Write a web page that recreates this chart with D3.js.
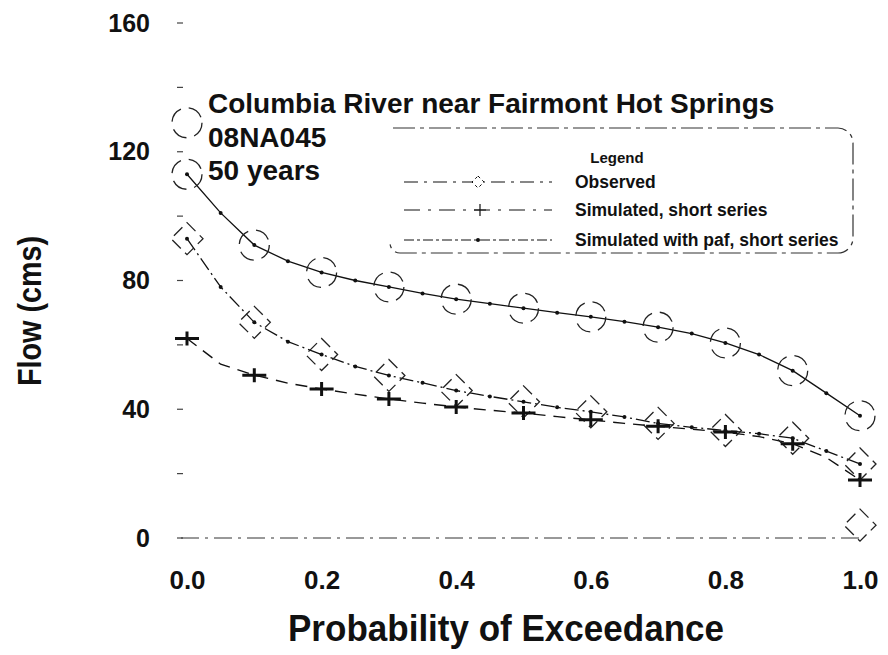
<!DOCTYPE html>
<html>
<head>
<meta charset="utf-8">
<script src="https://cdn.jsdelivr.net/npm/d3@7"></script>
<style>
  html, body { margin: 0; padding: 0; background: #fff; }
  svg { display: block; font-family: "Liberation Sans", Arial, sans-serif; }
</style>
</head>
<body>
<svg width="888" height="655"></svg>
<script>
// exceedance probabilities of the plotted points
const probs = [0, 0.05, 0.1, 0.15, 0.2, 0.25, 0.3, 0.35, 0.4, 0.45, 0.5,
    0.55, 0.6, 0.65, 0.7, 0.75, 0.8, 0.85, 0.9, 0.95, 1.0];

// flows (cms)
const simPaf = [113, 101, 91, 86, 82.5, 80, 78, 76, 74.2, 72.8, 71.4,
    70, 68.7, 67.2, 65.5, 63.5, 60.6, 57, 52, 45, 38];
const observed = [93, 78, 67, 61, 57, 53.3, 50.5, 48.2, 45.8, 44, 42.3,
    40.6, 39.2, 37.6, 35.6, 34.4, 33.4, 32.4, 31, 27, 23];
const simShort = [62, 54, 50.6, 48.1, 46.3, 44.7, 43.2, 41.9, 40.7, 39.7, 38.8,
    37.7, 36.7, 35.6, 34.7, 33.8, 32.9, 31.5, 29.3, 25, 18];

// lone markers off the curves
const extraPafProbs = [0];
const extraPaf = [129];
const extraObsProbs = [1.0];
const extraObserved = [4];

const yTicks = [0, 40, 80, 120, 160];
const yMinorTicks = [0, 20, 40, 60, 80, 100, 120, 140, 160];
const xTicks = [0, 0.2, 0.4, 0.6, 0.8, 1.0];

const titleLines = ["Columbia River near Fairmont Hot Springs", "08NA045", "50 years"];
const legendLabels = ["Observed", "Simulated, short series", "Simulated with paf, short series"];

const svg = d3.select("svg");
const ink = "#111";

const x = d3.scaleLinear().domain([0, 1]).range([187, 860]);
const y = d3.scaleLinear().domain([0, 160]).range([538, 23]);

// y axis: only labels and small dashes, no spine
const yAxis = svg.append("g")
    .attr("transform", "translate(150,0)")
    .call(d3.axisLeft(y).tickValues(yTicks).tickSize(0).tickPadding(0).tickFormat(d3.format("d")));
yAxis.select(".domain").remove();
yAxis.selectAll("text")
    .attr("font-size", 25).attr("font-weight", "bold").attr("fill", ink)
    .attr("font-family", "Liberation Sans, Arial, sans-serif");

svg.append("g").selectAll("line")
    .data(yMinorTicks)
    .enter().append("line")
    .attr("x1", 177).attr("x2", 183)
    .attr("y1", d => y(d)).attr("y2", d => y(d))
    .attr("stroke", "#444").attr("stroke-width", 1.2);

// x axis: labels below, a broken baseline
const xAxis = svg.append("g")
    .attr("transform", "translate(0,571)")
    .call(d3.axisBottom(x).tickValues(xTicks).tickSize(0).tickPadding(0).tickFormat(d3.format(".1f")));
xAxis.select(".domain").remove();
xAxis.selectAll("text")
    .attr("font-size", 26).attr("font-weight", "bold").attr("fill", ink)
    .attr("font-family", "Liberation Sans, Arial, sans-serif");

svg.append("line")
    .attr("x1", x(0) - 6).attr("x2", x(1))
    .attr("y1", y(0)).attr("y2", y(0))
    .attr("stroke", "#333").attr("stroke-width", 1)
    .attr("stroke-dasharray", "18,6,3,6");

// axis titles
svg.append("text")
    .attr("x", 506).attr("y", 641)
    .attr("text-anchor", "middle")
    .attr("font-size", 36).attr("font-weight", "bold").attr("fill", ink)
    .attr("textLength", 436).attr("lengthAdjust", "spacingAndGlyphs")
    .text("Probability of Exceedance");

svg.append("text")
    .attr("transform", "translate(41,311) rotate(-90)")
    .attr("text-anchor", "middle")
    .attr("font-size", 34).attr("font-weight", "bold").attr("fill", ink)
    .attr("textLength", 150).attr("lengthAdjust", "spacingAndGlyphs")
    .text("Flow (cms)");

// station text
svg.append("g").selectAll("text")
    .data(titleLines)
    .enter().append("text")
    .attr("x", 208)
    .attr("y", (d, i) => 113 + i * 33.5)
    .attr("font-size", 28).attr("font-weight", "bold").attr("fill", ink)
    .text(d => d);

// series
const line = d3.line().x(d => x(d[0])).y(d => y(d[1]));
const pts = vals => probs.map((p, i) => [p, vals[i]]);
const tenths = vals => pts(vals).filter((d, i) => i % 2 === 0);
const pairs = (ps, vs) => ps.map((p, i) => [p, vs[i]]);

const series = [
    {id: "paf", vals: simPaf, dash: null, width: 1.3},
    {id: "obs", vals: observed, dash: "14,4,2,4", width: 1.3},
    {id: "short", vals: simShort, dash: "12,8", width: 1.4}
];

const plot = svg.append("g").attr("id", "curves").attr("fill", "none");
plot.selectAll("path.curve")
    .data(series)
    .enter().append("path")
    .attr("class", "curve")
    .attr("d", s => line(pts(s.vals)))
    .attr("stroke", ink)
    .attr("stroke-width", s => s.width)
    .attr("stroke-dasharray", s => s.dash);

// small dots along upper two curves
[simPaf, observed].forEach(vals => {
    svg.append("g").selectAll("circle")
        .data(pts(vals))
        .enter().append("circle")
        .attr("cx", d => x(d[0])).attr("cy", d => y(d[1]))
        .attr("r", 2).attr("fill", ink);
});

// open circles on the paf curve
svg.append("g").selectAll("circle")
    .data(tenths(simPaf).concat(pairs(extraPafProbs, extraPaf)))
    .enter().append("circle")
    .attr("cx", d => x(d[0])).attr("cy", d => y(d[1]))
    .attr("r", 15)
    .attr("fill", "none").attr("stroke", "#222").attr("stroke-width", 1.3)
    .attr("stroke-dasharray", "16,8");

// diamonds on the observed curve
function diamond(cx, cy, r) {
    const path = d3.path();
    path.moveTo(cx, cy - r);
    path.lineTo(cx + r, cy);
    path.lineTo(cx, cy + r);
    path.lineTo(cx - r, cy);
    path.closePath();
    return path.toString();
}
svg.append("g").selectAll("path")
    .data(tenths(observed).concat(pairs(extraObsProbs, extraObserved)))
    .enter().append("path")
    .attr("d", d => diamond(x(d[0]), y(d[1]), 16))
    .attr("fill", "none").attr("stroke", "#222").attr("stroke-width", 1.3)
    .attr("stroke-dasharray", "12,6");

// plus markers on the short-series curve
function plus(cx, cy, w, h) {
    const path = d3.path();
    path.moveTo(cx - w, cy);
    path.lineTo(cx + w, cy);
    path.moveTo(cx, cy - h);
    path.lineTo(cx, cy + h);
    return path.toString();
}
svg.append("g").selectAll("path")
    .data(tenths(simShort))
    .enter().append("path")
    .attr("d", d => plus(x(d[0]), y(d[1]), 12, 7))
    .attr("fill", "none").attr("stroke", ink).attr("stroke-width", 3);

// legend box
const legend = svg.append("g").attr("id", "legend");
const box = d3.path();
box.moveTo(393, 128);
box.lineTo(838, 128);
box.arcTo(853, 128, 853, 143, 15);
box.lineTo(853, 238);
box.arcTo(853, 253, 838, 253, 15);
box.lineTo(402, 253);
box.arcTo(390, 253, 390, 245, 10);
legend.append("path")
    .attr("d", box.toString())
    .attr("fill", "none").attr("stroke", "#333").attr("stroke-width", 1.2)
    .attr("stroke-dasharray", "22,5,4,5");

legend.append("text")
    .attr("x", 617).attr("y", 163)
    .attr("text-anchor", "middle")
    .attr("font-size", 15).attr("font-weight", "bold").attr("fill", ink)
    .text("Legend");

const rowY = [182, 210, 240];
const sampleDash = ["14,6,3,6", "16,8,3,8", "10,3,3,3"];
legend.selectAll("line.sample")
    .data(legendLabels)
    .enter().append("line")
    .attr("class", "sample")
    .attr("x1", 404).attr("x2", 552)
    .attr("y1", (d, i) => rowY[i]).attr("y2", (d, i) => rowY[i])
    .attr("stroke", ink).attr("stroke-width", 1.2)
    .attr("stroke-dasharray", (d, i) => sampleDash[i]);

legend.append("path")
    .attr("d", diamond(478, rowY[0], 6))
    .attr("fill", "#fff").attr("stroke", ink).attr("stroke-dasharray", "3,3");
legend.append("path")
    .attr("d", plus(480, rowY[1], 6, 6))
    .attr("stroke", ink).attr("stroke-width", 1.2);
legend.append("circle")
    .attr("cx", 478).attr("cy", rowY[2]).attr("r", 2).attr("fill", ink);

legend.selectAll("text.label")
    .data(legendLabels)
    .enter().append("text")
    .attr("class", "label")
    .attr("x", 575)
    .attr("y", (d, i) => rowY[i] + 6)
    .attr("font-size", 17.5).attr("font-weight", "bold").attr("fill", ink)
    .text(d => d);
</script>
</body>
</html>
